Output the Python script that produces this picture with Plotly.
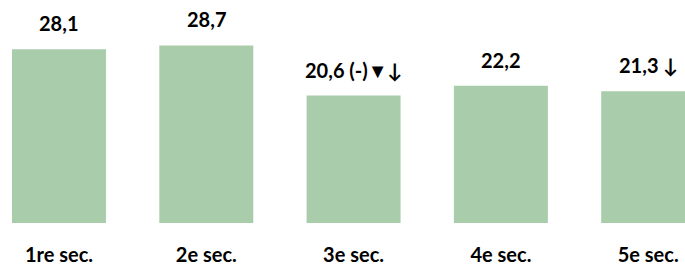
import plotly.graph_objects as go

categories = ["1re sec.", "2e sec.", "3e sec.", "4e sec.", "5e sec."]
values = [28.1, 28.7, 20.6, 22.2, 21.3]
value_labels = ["28,1", "28,7", "20,6 (-)▼↓", "22,2", "21,3 ↓"]

x_idx = list(range(len(categories)))

fig = go.Figure()
fig.add_trace(go.Bar(
    x=x_idx, y=values,
    marker=dict(color="#a9cdaa", line=dict(width=0)),
    width=0.638,
    hoverinfo="skip",
))

for xi, v, lab in zip(x_idx, values, value_labels):
    fig.add_annotation(
        x=xi, y=v, text="<b>" + lab + "</b>",
        showarrow=False, yshift=26, yanchor="middle", xanchor="center",
        font=dict(family="Lato", size=20, color="#000000"),
    )

fig.update_layout(
    width=685, height=265,
    margin=dict(l=0, r=0, t=0, b=42),
    paper_bgcolor="white", plot_bgcolor="white",
    showlegend=False,
    xaxis=dict(
        range=[-0.4005, 4.25],
        tickmode="array", tickvals=x_idx,
        ticktext=["<b>" + c + "</b>" for c in categories],
        tickfont=dict(family="Lato", size=20, color="#000000"),
        showgrid=False, zeroline=False, showline=False,
        ticks="", ticklabelstandoff=18,
    ),
    yaxis=dict(range=[0, 36.05], visible=False, showgrid=False, zeroline=False),
)

fig.write_html(
    "out.html",
    config={"displayModeBar": False, "staticPlot": True},
    post_script="document.body.style.margin='0';document.body.style.overflow='hidden';",
)
